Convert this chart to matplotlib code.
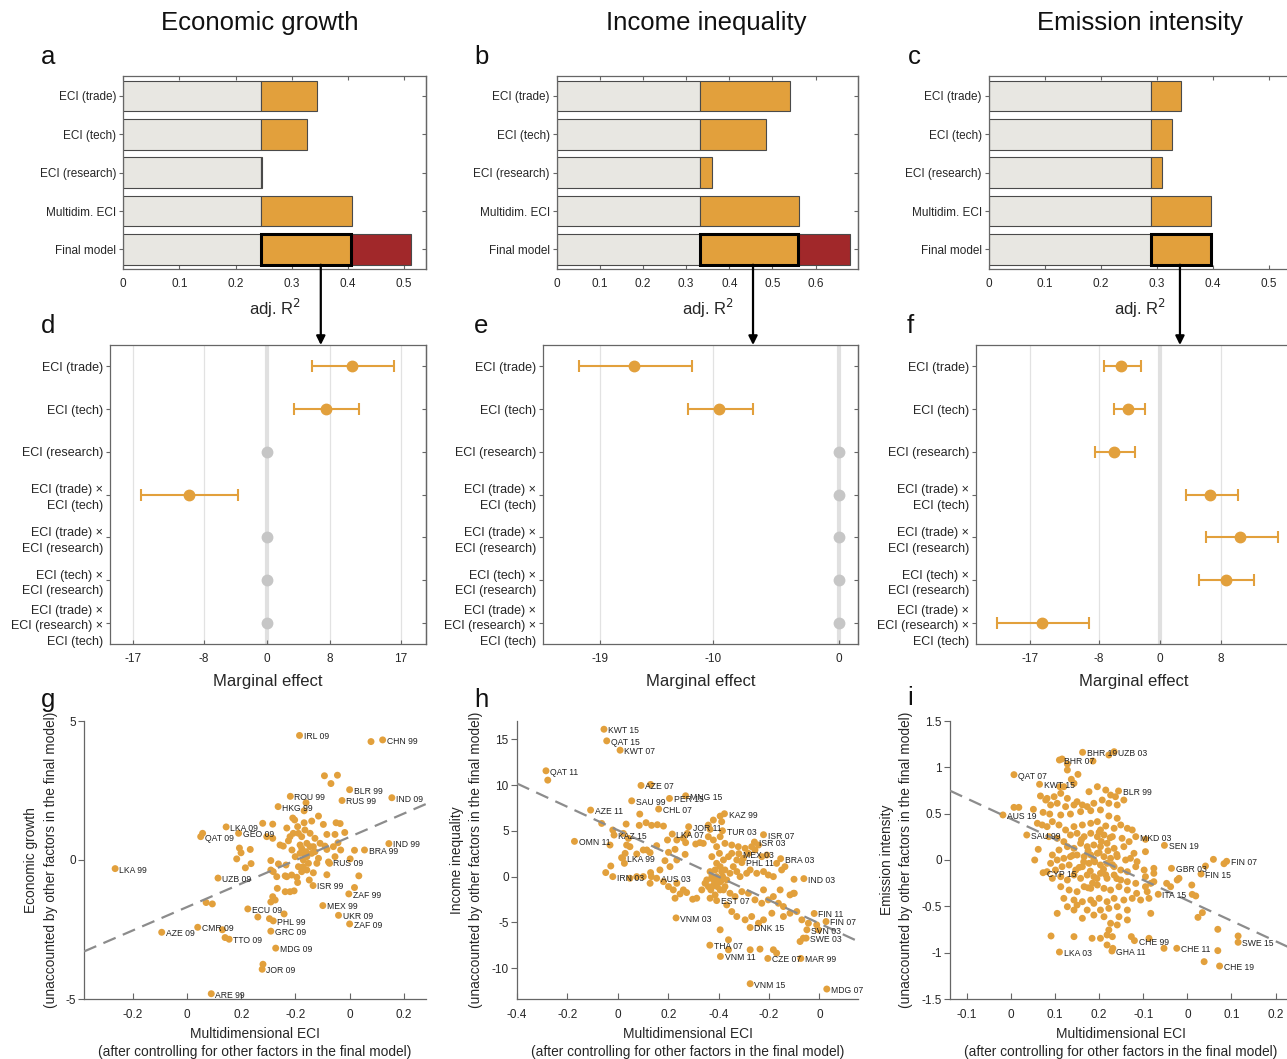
import numpy as np
import matplotlib.pyplot as plt
from matplotlib.patches import ConnectionPatch
from matplotlib.transforms import blended_transform_factory
from matplotlib.ticker import FormatStrFormatter

plt.rcParams['font.family'] = ['Liberation Sans', 'DejaVu Sans']
plt.rcParams['axes.unicode_minus'] = False

ORANGE = '#E2A03C'
RED = '#A1282A'
LIGHT = '#E8E7E2'
EDGE = '#4a4a4a'
SPINE = '#666666'
TXT = '#262626'

# ---------------- data ----------------
titles = ['Economic growth', 'Income inequality', 'Emission intensity']

bar_labels = ['ECI (trade)', 'ECI (tech)', 'ECI (research)', 'Multidim. ECI', 'Final model']
# baseline adj. R2 (controls only) and adj. R2 with each ECI variant
growth_base = 0.245
growth_r2 = [0.345, 0.327, 0.247, 0.407, 0.405]
growth_full = 0.512
inequality_base = 0.333
inequality_r2 = [0.541, 0.485, 0.359, 0.562, 0.560]
inequality_full = 0.680
emission_base = 0.290
emission_r2 = [0.343, 0.326, 0.309, 0.397, 0.397]
emission_full = None

effect_labels = ['ECI (trade)', 'ECI (tech)', 'ECI (research)',
                 'ECI (trade) \u00d7\nECI (tech)',
                 'ECI (trade) \u00d7\nECI (research)',
                 'ECI (tech) \u00d7\nECI (research)',
                 'ECI (trade) \u00d7\nECI (research) \u00d7\nECI (tech)']
nan = np.nan
growth_eff = [10.8, 7.5, 0, -9.9, 0, 0, 0]
growth_lo = [5.7, 3.5, nan, -15.9, nan, nan, nan]
growth_hi = [16.2, 11.7, nan, -3.6, nan, nan, nan]
inequality_eff = [-16.3, -9.5, 0, 0, 0, 0, 0]
inequality_lo = [-20.7, -12.0, nan, nan, nan, nan, nan]
inequality_hi = [-11.7, -6.85, nan, nan, nan, nan, nan]
emission_eff = [-5.1, -4.13, -6.04, 6.6, 10.5, 8.57, -15.43]
emission_lo = [-7.35, -5.96, -8.43, 3.35, 6.04, 5.13, -21.2]
emission_hi = [-2.43, -2.0, -3.26, 10.2, 15.35, 12.26, -9.3]

# partial regression scatter: labelled country-years
g_labeled = [
    (-0.185, 4.48, 'IRL 09'), (0.122, 4.32, 'CHN 99'), (0.000, 2.53, 'BLR 99'),
    (0.156, 2.24, 'IND 09'), (-0.219, 2.29, 'ROU 99'), (-0.028, 2.14, 'RUS 99'),
    (-0.264, 1.92, 'HKG 99'), (-0.456, 1.19, 'LKA 09'), (-0.410, 0.96, 'GEO 09'),
    (-0.550, 0.84, 'QAT 09'), (0.145, 0.59, 'IND 99'), (0.055, 0.36, 'BRA 99'),
    (-0.866, -0.31, 'LKA 99'), (-0.078, -0.07, 'RUS 09'), (-0.486, -0.65, 'UZB 09'),
    (-0.135, -0.92, 'ISR 99'), (-0.003, -1.22, 'ZAF 99'), (-0.099, -1.64, 'MEX 99'),
    (-0.041, -1.99, 'UKR 09'), (0.000, -2.30, 'ZAF 09'), (-0.376, -1.76, 'ECU 09'),
    (-0.282, -2.19, 'PHL 99'), (-0.291, -2.56, 'GRC 09'), (-0.561, -2.42, 'CMR 09'),
    (-0.694, -2.60, 'AZE 09'), (-0.445, -2.85, 'TTO 09'), (-0.273, -3.17, 'MDG 09'),
    (-0.323, -3.93, 'JOR 09'), (-0.511, -4.81, 'ARE 99'),
]
g_other = [
    (0.079, 4.26), (-0.093, 3.03), (-0.045, 3.05), (-0.069, 2.75), (-0.161, 2.06),
    (-0.168, 1.77), (-0.115, 1.58), (-0.21, 1.51), (-0.203, 1.44), (-0.321, 1.32),
    (-0.284, 1.29), (-0.232, 1.15), (-0.192, 1.20), (-0.168, 1.34), (-0.14, 1.40),
    (-0.097, 1.28), (-0.05, 1.34), (-0.035, 1.31), (-0.018, 0.99), (-0.054, 0.92),
    (-0.084, 0.92), (-0.306, 0.84), (-0.284, 0.78), (-0.22, 0.84), (-0.407, 0.43),
    (-0.401, 0.26), (-0.367, 0.38), (-0.417, 0.04), (-0.385, -0.28), (-0.364, -0.13),
    (-0.257, 0.54), (-0.245, 0.50), (-0.213, 0.36), (-0.183, 0.54), (-0.158, 0.60),
    (-0.134, 0.48), (-0.109, 0.60), (-0.091, 0.50), (-0.06, 0.48), (-0.043, 0.62),
    (0.018, 0.35), (-0.033, 0.36), (-0.054, 0.12), (0.002, 0.04), (-0.291, -0.02),
    (-0.263, -0.14), (-0.235, -0.18), (-0.291, -0.36), (-0.269, -0.60), (-0.238, -0.57),
    (-0.214, -0.54), (-0.195, -0.62), (-0.177, -0.42), (-0.158, -0.36), (-0.134, -0.46),
    (-0.084, -0.53), (0.034, -0.57), (-0.192, -0.81), (-0.149, -0.72), (0.018, -0.99),
    (-0.267, -1.02), (-0.238, -1.14), (-0.22, -1.14), (-0.205, -1.11), (-0.284, -1.32),
    (-0.275, -1.44), (-0.291, -1.51), (-0.53, -1.53), (-0.507, -1.58), (-0.242, -1.94),
    (-0.339, -2.05), (-0.296, -2.11), (-0.47, -2.51), (-0.208, 0.96), (-0.189, 0.96),
    (-0.177, 0.84), (-0.165, 1.08), (-0.146, 0.96), (-0.128, 0.78), (-0.201, 0.12),
    (-0.183, 0.24), (-0.171, 0.0), (-0.158, 0.12), (-0.14, 0.24), (-0.128, 0.30),
    (-0.115, 0.06), (-0.189, -0.24), (-0.171, -0.24), (-0.152, -0.12), (-0.121, -0.12),
    (-0.226, 0.69), (-0.177, 0.42), (-0.161, 0.30), (-0.146, 0.48), (-0.165, 0.18),
    (-0.232, -0.60), (-0.282, -0.42), (-0.084, 0.38), (-0.074, -0.12), (-0.543, 0.96),
    (-0.46, -2.79), (-0.32, -3.75),
]

h_labeled = [
    (-0.855, 16.10, 'KWT 15'), (-0.844, 14.83, 'QAT 15'), (-0.791, 13.81, 'KWT 07'),
    (-1.085, 11.56, 'QAT 11'), (-0.708, 9.96, 'AZE 07'), (-0.745, 8.28, 'SAU 99'),
    (-0.595, 8.54, 'PER 15'), (-0.531, 8.83, 'MNG 15'), (-0.638, 7.38, 'CHL 07'),
    (-0.908, 7.27, 'AZE 11'), (-0.377, 6.87, 'KAZ 99'), (-0.519, 5.45, 'JOR 11'),
    (-0.385, 5.01, 'TUR 03'), (-0.584, 4.65, 'LKA 07'), (-0.222, 4.58, 'ISR 07'),
    (-0.815, 4.54, 'KAZ 15'), (-0.972, 3.85, 'OMN 11'), (-0.258, 3.78, 'ISR 03'),
    (-0.320, 2.51, 'MEX 03'), (-0.154, 1.96, 'BRA 03'), (-0.781, 2.00, 'LKA 99'),
    (-0.308, 1.53, 'PHL 11'), (-0.820, 0.00, 'IRN 03'), (-0.646, -0.18, 'AUS 03'),
    (-0.062, -0.22, 'IND 03'), (-0.408, -2.62, 'EST 07'), (-0.569, -4.51, 'VNM 03'),
    (-0.021, -4.03, 'FIN 11'), (0.026, -4.91, 'FIN 07'), (-0.275, -5.56, 'DNK 15'),
    (-0.050, -5.81, 'SVN 03'), (-0.053, -6.72, 'SWE 03'), (-0.435, -7.49, 'THA 07'),
    (-0.393, -8.72, 'VNM 11'), (-0.205, -8.94, 'CZE 07'), (-0.074, -8.94, 'MAR 99'),
    (-0.275, -11.70, 'VNM 15'), (0.029, -12.28, 'MDG 07'),
]
h_other = [
    (-1.078, 10.54), (-0.67, 10.07), (-0.864, 5.81), (-0.820, 5.09), (-0.831, 3.45),
    (-0.828, 1.16), (-0.848, 0.44), (-0.767, 5.74), (-0.778, 4.72), (-0.758, 4.18),
    (-0.765, 3.45), (-0.752, 3.27), (-0.771, 2.54), (-0.774, 1.45), (-0.785, 2.07),
    (-0.713, 6.83), (-0.715, 5.60), (-0.688, 5.89), (-0.666, 5.60), (-0.643, 5.67),
    (-0.619, 5.52), (-0.646, 3.38), (-0.685, 2.91), (-0.699, 2.91), (-0.725, 2.47),
    (-0.672, 2.62), (-0.670, 0.44), (-0.667, 0.0), (-0.633, 0.73), (-0.593, 1.09),
    (-0.613, 1.74), (-0.566, 1.82), (-0.599, 2.65), (-0.573, 2.98), (-0.533, 2.43),
    (-0.603, 4.0), (-0.566, 4.0), (-0.540, 4.18), (-0.531, 3.71), (-0.524, 4.72),
    (-0.491, 3.56), (-0.474, 3.71), (-0.461, 3.63), (-0.441, 4.36), (-0.434, 5.16),
    (-0.441, 5.63), (-0.421, 6.18), (-0.394, 6.61), (-0.388, 6.0), (-0.752, -0.18),
    (-0.725, 0.0), (-0.699, 0.0), (-0.672, -0.73), (-0.619, -0.55), (-0.599, -1.09),
    (-0.566, -0.73), (-0.540, -1.45), (-0.573, -2.36), (-0.527, -1.74), (-0.580, -1.45),
    (-0.553, -1.89), (-0.503, -2.47), (-0.487, -2.36), (-0.467, -1.45), (-0.454, -0.73),
    (-0.447, -0.36), (-0.427, 0.0), (-0.408, 0.0), (-0.392, -0.55), (-0.375, -1.09),
    (-0.394, -1.45), (-0.414, -2.0), (-0.434, -2.36), (-0.434, 0.55), (-0.414, 0.73),
    (-0.394, 1.09), (-0.375, 0.73), (-0.355, 0.36), (-0.342, 1.09), (-0.328, 0.55),
    (-0.315, 0.0), (-0.289, 0.36), (-0.275, 0.73), (-0.249, 0.36), (-0.222, 0.55),
    (-0.203, 0.18), (-0.183, 0.0), (-0.427, 2.18), (-0.408, 1.45), (-0.397, 2.54),
    (-0.381, 1.82), (-0.361, 2.18), (-0.348, 2.54), (-0.328, 1.82), (-0.302, 2.0),
    (-0.282, 2.54), (-0.256, 2.91), (-0.229, 2.18), (-0.209, 2.36), (-0.170, 1.45),
    (-0.150, 0.73), (-0.137, 1.09), (-0.381, -1.45), (-0.355, -1.82), (-0.335, -2.18),
    (-0.308, -1.64), (-0.282, -1.82), (-0.256, -2.54), (-0.229, -2.91), (-0.203, -2.54),
    (-0.183, -2.18), (-0.163, -2.91), (-0.143, -3.27), (-0.117, -2.0), (-0.103, -1.82),
    (-0.368, -3.09), (-0.348, -3.82), (-0.328, -4.36), (-0.295, -4.72), (-0.269, -4.36),
    (-0.242, -5.09), (-0.222, -4.72), (-0.189, -4.0), (-0.143, -4.36), (-0.117, -4.0),
    (-0.090, -3.82), (-0.394, -5.81), (-0.361, -6.90), (-0.361, -7.99), (-0.275, -7.99),
    (-0.236, -7.92), (-0.183, -7.99), (-0.170, -8.36), (-0.070, -4.72), (-0.044, -5.09),
    (-0.011, -5.27), (-0.064, -6.72), (-0.077, -7.09), (-0.004, -5.81), (-0.101, -0.29),
    (-0.100, -1.82), (-0.156, -1.45), (-0.222, -1.45), (-0.408, 3.27), (-0.421, 4.0),
    (-0.394, 4.36), (-0.375, 3.63), (-0.348, 3.45), (-0.322, 3.27), (-0.295, 3.09),
    (-0.269, 3.27), (-0.242, 3.45), (-0.421, -0.36), (-0.414, -0.73), (-0.405, -1.09),
    (-0.423, -1.02), (-0.401, -0.18), (-0.384, 0.0), (-0.388, 0.55), (-0.368, -0.36),
    (-0.431, -1.45), (-0.441, -1.09),
]

i_labeled = [
    (-0.2375, 1.162, 'BHR 19'), (-0.166, 1.169, 'UZB 03'), (-0.290, 1.079, 'BHR 07'),
    (-0.393, 0.921, 'QAT 07'), (-0.335, 0.817, 'KWT 15'), (-0.156, 0.745, 'BLR 99'),
    (-0.418, 0.486, 'AUS 19'), (-0.364, 0.270, 'SAU 99'), (-0.117, 0.252, 'MKD 03'),
    (-0.052, 0.158, 'SEN 19'), (0.089, -0.014, 'FIN 07'), (-0.036, -0.090, 'GBR 03'),
    (0.031, -0.151, 'FIN 15'), (-0.327, -0.137, 'CYP 15'), (-0.066, -0.370, 'ITA 15'),
    (-0.120, -0.870, 'CHE 99'), (-0.024, -0.953, 'CHE 11'), (0.115, -0.888, 'SWE 15'),
    (0.073, -1.144, 'CHE 19'), (-0.290, -0.993, 'LKA 03'), (-0.171, -0.982, 'GHA 11'),
]
i_other = [
    (-0.178, 1.133), (-0.284, 1.09), (-0.214, 1.068),
    (-0.272, 1.036), (-0.272, 0.971), (-0.248, 0.924), (-0.263, 0.871), (-0.257, 0.827),
    (-0.280, 0.791), (-0.289, 0.791), (-0.287, 0.719), (-0.302, 0.683), (-0.318, 0.665),
    (-0.333, 0.691), (-0.321, 0.647), (-0.310, 0.594), (-0.295, 0.612), (-0.272, 0.665),
    (-0.250, 0.629), (-0.223, 0.737), (-0.204, 0.791), (-0.185, 0.755), (-0.174, 0.701),
    (-0.163, 0.683), (-0.144, 0.647), (-0.159, 0.594), (-0.178, 0.612), (-0.193, 0.647),
    (-0.212, 0.612), (-0.227, 0.576), (-0.238, 0.594), (-0.257, 0.594), (-0.276, 0.576),
    (-0.393, 0.568), (-0.382, 0.568), (-0.349, 0.547), (-0.327, 0.514), (-0.312, 0.496),
    (-0.287, 0.486), (-0.265, 0.496), (-0.242, 0.522), (-0.219, 0.532), (-0.197, 0.540),
    (-0.178, 0.475), (-0.159, 0.450), (-0.151, 0.378), (-0.136, 0.342), (-0.125, 0.324),
    (-0.340, 0.396), (-0.329, 0.378), (-0.318, 0.360), (-0.306, 0.414), (-0.291, 0.378),
    (-0.276, 0.324), (-0.257, 0.360), (-0.238, 0.378), (-0.219, 0.396), (-0.204, 0.414),
    (-0.185, 0.367), (-0.166, 0.342), (-0.197, 0.324), (-0.314, 0.252), (-0.295, 0.234),
    (-0.280, 0.198), (-0.265, 0.270), (-0.250, 0.288), (-0.234, 0.252), (-0.219, 0.288),
    (-0.204, 0.252), (-0.189, 0.270), (-0.170, 0.252), (-0.148, 0.234), (-0.132, 0.198),
    (-0.095, 0.223), (-0.095, 0.090), (-0.338, 0.115), (-0.346, 0.0), (-0.306, 0.054),
    (-0.291, 0.108), (-0.272, 0.144), (-0.257, 0.126), (-0.242, 0.180), (-0.227, 0.144),
    (-0.212, 0.162), (-0.197, 0.144), (-0.182, 0.180), (-0.166, 0.126), (-0.144, 0.144),
    (-0.121, 0.072), (-0.114, -0.018), (-0.310, -0.036), (-0.295, 0.0), (-0.280, 0.018),
    (-0.265, 0.036), (-0.250, 0.054), (-0.234, 0.036), (-0.219, 0.054), (-0.204, 0.072),
    (-0.189, 0.036), (-0.174, 0.018), (-0.159, 0.036), (-0.140, 0.0), (-0.129, 0.018),
    (-0.318, -0.126), (-0.299, -0.108), (-0.284, -0.072), (-0.268, -0.054), (-0.253, -0.108),
    (-0.238, -0.072), (-0.223, -0.036), (-0.212, 0.0), (-0.197, -0.054), (-0.182, -0.036),
    (-0.166, -0.072), (-0.151, -0.108), (-0.136, -0.126), (-0.117, -0.072), (-0.098, -0.108),
    (-0.076, -0.090), (-0.076, -0.144), (-0.306, -0.198), (-0.287, -0.180), (-0.272, -0.216),
    (-0.257, -0.162), (-0.242, -0.198), (-0.227, -0.162), (-0.212, -0.180), (-0.197, -0.144),
    (-0.182, -0.198), (-0.166, -0.162), (-0.151, -0.216), (-0.136, -0.234), (-0.117, -0.252),
    (-0.095, -0.180), (-0.083, -0.252), (-0.076, -0.234), (-0.287, -0.288), (-0.268, -0.324),
    (-0.250, -0.342), (-0.234, -0.288), (-0.219, -0.306), (-0.204, -0.270), (-0.189, -0.306),
    (-0.174, -0.324), (-0.155, -0.288), (-0.136, -0.324), (-0.115, -0.360), (-0.095, -0.288),
    (-0.091, -0.342), (-0.047, -0.252), (-0.038, -0.288), (-0.023, -0.216), (-0.019, -0.198),
    (0.010, -0.270), (0.011, -0.371), (0.019, -0.388), (-0.280, -0.414), (-0.257, -0.432),
    (-0.238, -0.450), (-0.219, -0.432), (-0.200, -0.414), (-0.182, -0.450), (-0.166, -0.414),
    (-0.144, -0.432), (-0.125, -0.414), (-0.106, -0.432), (-0.087, -0.414), (-0.272, -0.504),
    (-0.250, -0.486), (-0.227, -0.540), (-0.212, -0.468), (-0.197, -0.540), (-0.178, -0.522),
    (-0.159, -0.504), (-0.136, -0.540), (-0.083, -0.576), (-0.295, -0.576), (-0.257, -0.540),
    (-0.238, -0.629), (-0.212, -0.594), (-0.189, -0.612), (-0.174, -0.683), (-0.155, -0.612),
    (-0.136, -0.647), (-0.178, -0.755), (-0.182, -0.809), (-0.170, -0.827), (-0.159, -0.701),
    (-0.309, -0.820), (-0.257, -0.827), (-0.216, -0.845), (-0.197, -0.845), (-0.182, -0.917),
    (-0.169, -0.953), (-0.127, -0.827), (-0.087, -0.845), (-0.053, -0.953), (0.034, -0.568),
    (0.024, -0.619), (0.069, -0.748), (0.038, -1.097), (0.069, -0.978), (0.115, -0.820),
    (0.041, -0.065), (0.059, 0.007), (0.083, -0.040),
    (-0.21, -0.02), (-0.20, 0.08), (-0.19, -0.10), (-0.22, -0.12), (-0.18, 0.10),
    (-0.205, -0.20), (-0.225, 0.10), (-0.195, 0.20), (-0.215, -0.25), (-0.17, -0.05),
    (-0.235, -0.02), (-0.16, 0.06), (-0.245, -0.08), (-0.185, -0.16), (-0.20, 0.30),
    (-0.24, 0.22), (-0.16, -0.20), (-0.26, 0.05), (-0.175, 0.24), (-0.225, -0.30),
]

# partial regression fit (slope, intercept)
g_fit = (4.2, 0.83)
h_fit = (-12.74, -5.12)
i_fit = (-2.2, -0.436)

# x tick labels as printed on the original panels
g_xticks = [-0.8, -0.6, -0.4, -0.2, 0, 0.2]
g_xlabels = ['-0.2', '0', '0.2', '-0.2', '0', '0.2']
h_xticks = [-1.2, -1.0, -0.8, -0.6, -0.4, -0.2, 0]
h_xlabels = ['-0.4', '-0.2', '0', '0.2', '-0.4', '-0.2', '0']
i_xticks = [-0.5, -0.4, -0.3, -0.2, -0.1, 0, 0.1, 0.2]
i_xlabels = ['-0.1', '0', '0.1', '0.2', '-0.1', '0', '0.1', '0.2']
g_yticks = [-5, 0, 5]
h_yticks = [-10, -5, 0, 5, 10, 15]
i_yticks = [-1.5, -1, -0.5, 0, 0.5, 1, 1.5]
scatter_ylabels = ['Economic growth', 'Income inequality', 'Emission intensity']

# ---------------- figure ----------------
W, H = 1287, 1059
fig = plt.figure(figsize=(W / 100, H / 100), dpi=100)


def px_axes(l, t, r, b):
    return fig.add_axes([l / W, 1 - b / H, (r - l) / W, (b - t) / H])


def style_box(ax):
    for s in ax.spines.values():
        s.set_color(SPINE)
        s.set_linewidth(0.9)


def right_ticks(ax, ticks):
    sec = ax.secondary_yaxis('right')
    sec.set_yticks(ticks)
    sec.tick_params(direction='in', length=3, labelright=False, color=SPINE)
    sec.spines['right'].set_color(SPINE)
    sec.spines['right'].set_linewidth(0.9)


def bar_panel(ax, base, r2, full, xmax, xticks):
    y = np.arange(1, 6)
    r2 = np.array(r2)
    ax.barh(y, [base] * 5, height=0.8, color=LIGHT, edgecolor=EDGE, linewidth=0.8, zorder=2)
    ax.barh(y, r2 - base, left=base, height=0.8, color=ORANGE, edgecolor=EDGE,
            linewidth=0.8, zorder=2)
    if full is not None:
        ax.barh(5, full - r2[-1], left=r2[-1], height=0.8, color=RED, edgecolor=EDGE,
                linewidth=0.8, zorder=2)
    ax.barh(5, r2[-1] - base, left=base, height=0.8, fill=False, edgecolor='black',
            linewidth=2.2, zorder=4)
    ax.set_xlim(0, xmax)
    ax.set_ylim(5.52, 0.48)
    ax.set_xticks(xticks)
    ax.xaxis.set_major_formatter(FormatStrFormatter('%g'))
    ax.set_yticks(y)
    ax.set_yticklabels(bar_labels)
    ax.tick_params(axis='x', direction='in', top=True, length=3, labelsize=8.5,
                   colors=TXT, pad=6)
    ax.tick_params(axis='y', direction='out', length=3, labelsize=8.5, colors=TXT, pad=2)
    ax.tick_params(color=SPINE)
    right_ticks(ax, y)
    style_box(ax)
    ax.text(0.5, -0.2, 'adj. R$^2$', transform=ax.transAxes, ha='center', va='center',
            fontsize=12, color=TXT)


def forest_panel(ax, eff, lo, hi, xlim, xticks):
    y = np.arange(1, 8)
    eff, lo, hi = np.array(eff), np.array(lo), np.array(hi)
    for t in xticks:
        if t != 0:
            ax.axvline(t, color='#e2e2e2', lw=0.9, zorder=0)
    ax.axvline(0, color='#e0e0e0', lw=3, zorder=1)
    sig = ~np.isnan(lo)
    ax.errorbar(eff[sig], y[sig], xerr=[eff[sig] - lo[sig], hi[sig] - eff[sig]], fmt='o',
                color=ORANGE, ms=7.5, capsize=4.3, elinewidth=1.5, capthick=1.5, zorder=3)
    ax.plot(eff[~sig], y[~sig], 'o', color='#c6c6c6', ms=7.5, zorder=3)
    ax.set_xlim(*xlim)
    ax.set_ylim(7.5, 0.5)
    ax.set_xticks(xticks)
    ax.set_yticks(y)
    ax.set_yticklabels(effect_labels)
    for t in ax.get_yticklabels():
        t.set_linespacing(1.4)
    ax.tick_params(axis='x', direction='in', length=3, labelsize=8.5, colors=TXT, pad=6)
    ax.tick_params(axis='y', direction='out', length=3, labelsize=9, colors=TXT, pad=2)
    ax.tick_params(color=SPINE)
    right_ticks(ax, y)
    style_box(ax)
    ax.text(0.5, -0.123, 'Marginal effect', transform=ax.transAxes, ha='center',
            va='center', fontsize=12, color=TXT)


def scatter_panel(ax, labeled, other, fit, xlim, ylim, xticks, xlabels, yticks,
                  ylabel, ylab_px):
    ox = [p[0] for p in other]
    oy = [p[1] for p in other]
    lx = [p[0] for p in labeled]
    ly = [p[1] for p in labeled]
    ax.scatter(ox + lx, oy + ly, s=25, color=ORANGE, edgecolors='none', zorder=3)
    for x, y, name in labeled:
        ax.annotate(name, (x, y), xytext=(3, -1), textcoords='offset points',
                    fontsize=6.2, color='#222222', va='center', ha='left', zorder=5)
    ax.axline((0, fit[1]), slope=fit[0], color='#8c8c8c', lw=1.6,
              linestyle=(0, (6, 3.5)), zorder=4)
    ax.set_xlim(*xlim)
    ax.set_ylim(*ylim)
    ax.set_xticks(xticks)
    ax.set_xticklabels(xlabels)
    ax.set_yticks(yticks)
    ax.yaxis.set_major_formatter(FormatStrFormatter('%g'))
    for s in ['top', 'right']:
        ax.spines[s].set_visible(False)
    for s in ['left', 'bottom']:
        ax.spines[s].set_color(SPINE)
        ax.spines[s].set_linewidth(0.9)
    ax.tick_params(axis='x', direction='in', length=4, labelsize=8.5, colors=TXT, pad=7)
    ax.tick_params(axis='y', direction='out', length=4, labelsize=8.5, colors=TXT, pad=2)
    ax.tick_params(color=SPINE)
    w = ax.get_position().width * W
    ax.text(ylab_px[0] / w, 0.5, ylabel, transform=ax.transAxes, rotation=90,
            ha='center', va='center', fontsize=9.9, color=TXT)
    ax.text(ylab_px[1] / w, 0.5, '(unaccounted by other factors in the final model)',
            transform=ax.transAxes, rotation=90, ha='center', va='center',
            fontsize=9.9, color=TXT)
    ax.text(0.5, -0.126, 'Multidimensional ECI', transform=ax.transAxes, ha='center',
            va='center', fontsize=9.9, color=TXT)
    ax.text(0.5, -0.19, '(after controlling for other factors in the final model)',
            transform=ax.transAxes, ha='center', va='center', fontsize=9.9, color=TXT)


# top row: adj. R2 bars
ax_a = px_axes(123.3, 76, 425.7, 269.3)
ax_b = px_axes(556.7, 76, 858.3, 269.3)
ax_c = px_axes(988.7, 76, 1291.0, 269.3)
bar_panel(ax_a, growth_base, growth_r2, growth_full, 0.539, [0, 0.1, 0.2, 0.3, 0.4, 0.5])
bar_panel(ax_b, inequality_base, inequality_r2, inequality_full, 0.699,
          [0, 0.1, 0.2, 0.3, 0.4, 0.5, 0.6])
bar_panel(ax_c, emission_base, emission_r2, emission_full, 0.539,
          [0, 0.1, 0.2, 0.3, 0.4, 0.5])

# middle row: marginal effects
ax_d = px_axes(110, 345, 425.7, 644.3)
ax_e = px_axes(543.3, 345, 858.3, 644.3)
ax_f = px_axes(976, 345, 1291.7, 644.3)
forest_panel(ax_d, growth_eff, growth_lo, growth_hi, (-19.9, 20.2), [-17, -8, 0, 8, 17])
forest_panel(ax_e, inequality_eff, inequality_lo, inequality_hi, (-23.5, 1.54),
             [-19, -10, 0])
forest_panel(ax_f, emission_eff, emission_lo, emission_hi, (-24.0, 17.2),
             [-17, -8, 0, 8])

# bottom row: partial regression plots
ax_g = px_axes(84, 721, 425.7, 999)
ax_h = px_axes(517, 721, 858.3, 999)
ax_i = px_axes(950, 721, 1291.5, 999)
scatter_panel(ax_g, g_labeled, g_other, g_fit, (-0.981, 0.281), (-5, 5), g_xticks,
              g_xlabels, g_yticks, scatter_ylabels[0], (-53, -33))
scatter_panel(ax_h, h_labeled, h_other, h_fit, (-1.2, 0.154), (-13.37, 17.0), h_xticks,
              h_xlabels, h_yticks, scatter_ylabels[1], (-60, -41))
scatter_panel(ax_i, i_labeled, i_other, i_fit, (-0.538, 0.236), (-1.5, 1.5), i_xticks,
              i_xlabels, i_yticks, scatter_ylabels[2], (-63, -44))

# arrows from the final-model box to the marginal effects
for ax_top, ax_mid, ax_x in [(ax_a, ax_d, 0.352), (ax_b, ax_e, 0.455), (ax_c, ax_f, 0.341)]:
    trans_b = blended_transform_factory(ax_top.transData, ax_mid.transAxes)
    cp = ConnectionPatch(xyA=(ax_x, 5.4), coordsA=ax_top.transData,
                         xyB=(ax_x, 1.0), coordsB=trans_b,
                         arrowstyle='-|>', mutation_scale=13, lw=1.6, color='black',
                         zorder=10)
    fig.add_artist(cp)

# titles and panel letters
for cx, t in zip([260, 706, 1140], titles):
    fig.text(cx / W, 1 - 23 / H, t, ha='center', va='center', fontsize=18.5, color='#111111')
letters = [('a', 48, 57), ('b', 482, 57), ('c', 914, 57),
           ('d', 48, 326), ('e', 481, 326), ('f', 910, 326),
           ('g', 48, 700), ('h', 481, 700), ('i', 910, 698)]
for s, x, y in letters:
    fig.text(x / W, 1 - y / H, s, ha='center', va='center', fontsize=18.5, color='#111111')

fig.savefig('out.png', dpi=100)
